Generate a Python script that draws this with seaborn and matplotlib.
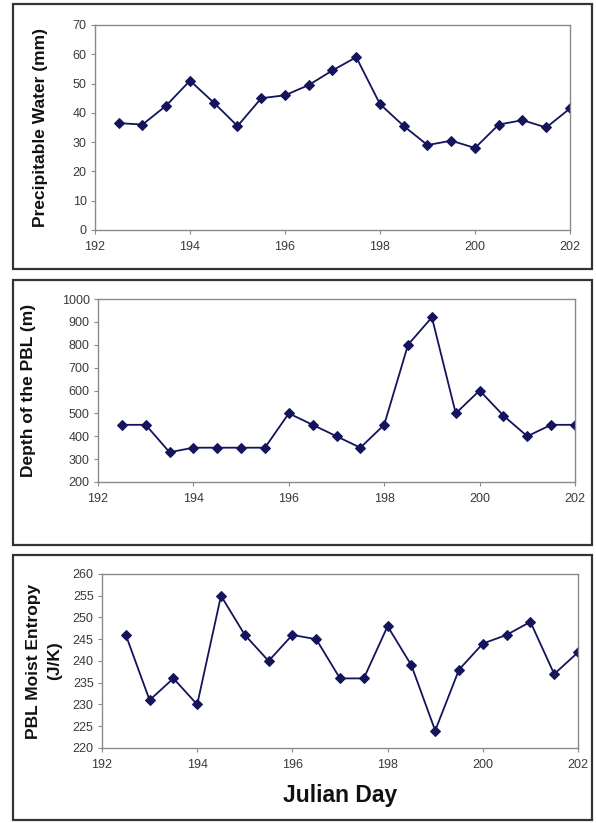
import matplotlib
matplotlib.use("Agg")
import matplotlib.pyplot as plt
from matplotlib.patches import Rectangle
import seaborn as sns
import pandas as pd

# Julian day of each sounding
julian_day = [192.5, 193.0, 193.5, 194.0, 194.5, 195.0, 195.5, 196.0, 196.5, 197.0,
              197.5, 198.0, 198.5, 199.0, 199.5, 200.0, 200.5, 201.0, 201.5, 202.0]

precipitable_water = [36.5, 36.0, 42.5, 51.0, 43.5, 35.5, 45.0, 46.0, 49.5, 54.5,
                      59.0, 43.0, 35.5, 29.0, 30.5, 28.0, 36.0, 37.5, 35.0, 41.5]

pbl_depth = [450, 450, 330, 350, 350, 350, 350, 500, 450, 400,
             350, 450, 800, 920, 500, 600, 490, 400, 450, 450]

moist_entropy = [246, 231, 236, 230, 255, 246, 240, 246, 245, 236,
                 236, 248, 239, 224, 238, 244, 246, 249, 237, 242]

x_ticks = [192, 194, 196, 198, 200, 202]

panels = [
    dict(y=precipitable_water, label="Precipitable Water (mm)",
         ylim=(0, 70), ystep=10, xlabel=None),
    dict(y=pbl_depth, label="Depth of the PBL (m)",
         ylim=(200, 1000), ystep=100, xlabel=None),
    dict(y=moist_entropy, label="PBL Moist Entropy\n(J/K)",
         ylim=(220, 260), ystep=5, xlabel="Julian Day"),
]

sns.set_style("white")
plt.rcParams["font.family"] = ["Liberation Sans", "DejaVu Sans"]

W, H = 596, 823
fig = plt.figure(figsize=(W / 100, H / 100), dpi=100)

# pixel boxes: (left, top, right, bottom) for axes and surrounding frames
axes_px = [(95, 25, 570, 230), (98, 299, 575, 482), (102, 574, 578, 748)]
frame_px = [(13, 4, 592, 269), (13, 280, 592, 545), (13, 555, 592, 820)]
# right edge of each rotated y-label block
label_x_px = [48, 36, 62]

line_color = "#14145c"
spine_color = "#8a8a8a"
text_color = "#3a3a3a"

for p, (l, t, r, b), (fl, ft, fr, fb), lx in zip(panels, axes_px, frame_px, label_x_px):
    fig.add_artist(Rectangle((fl / W, 1 - fb / H), (fr - fl) / W, (fb - ft) / H,
                             transform=fig.transFigure, fill=False,
                             edgecolor="#333333", linewidth=1.6))
    ax = fig.add_axes([l / W, 1 - b / H, (r - l) / W, (b - t) / H])
    df = pd.DataFrame({"day": julian_day, "value": p["y"]})
    sns.lineplot(data=df, x="day", y="value", ax=ax, color=line_color,
                 linewidth=1.3, marker="D", markersize=4.8,
                 markeredgecolor=line_color, markerfacecolor=line_color)
    ax.set_xlim(192, 202)
    ax.set_ylim(*p["ylim"])
    ax.set_xticks(x_ticks)
    lo, hi = p["ylim"]
    ax.set_yticks(list(range(lo, hi + 1, p["ystep"])))
    for s in ax.spines.values():
        s.set_color(spine_color)
        s.set_linewidth(1.0)
    ax.tick_params(axis="both", which="both", direction="out", length=3,
                   width=0.8, color=spine_color, labelsize=9,
                   labelcolor=text_color, pad=3)
    ax.tick_params(axis="x", pad=5)
    ax.tick_params(left=True, bottom=True)
    ax.set_ylabel(p["label"], fontsize=12.5, fontweight="bold", color="#111111",
                  linespacing=1.5)
    ax.yaxis.set_label_coords((lx - l) / (r - l), 0.5)
    if p["xlabel"]:
        ax.set_xlabel(p["xlabel"], fontsize=16.5, fontweight="bold", color="#111111",
                      labelpad=9)
    else:
        ax.set_xlabel("")

fig.savefig("out.png", dpi=100)
